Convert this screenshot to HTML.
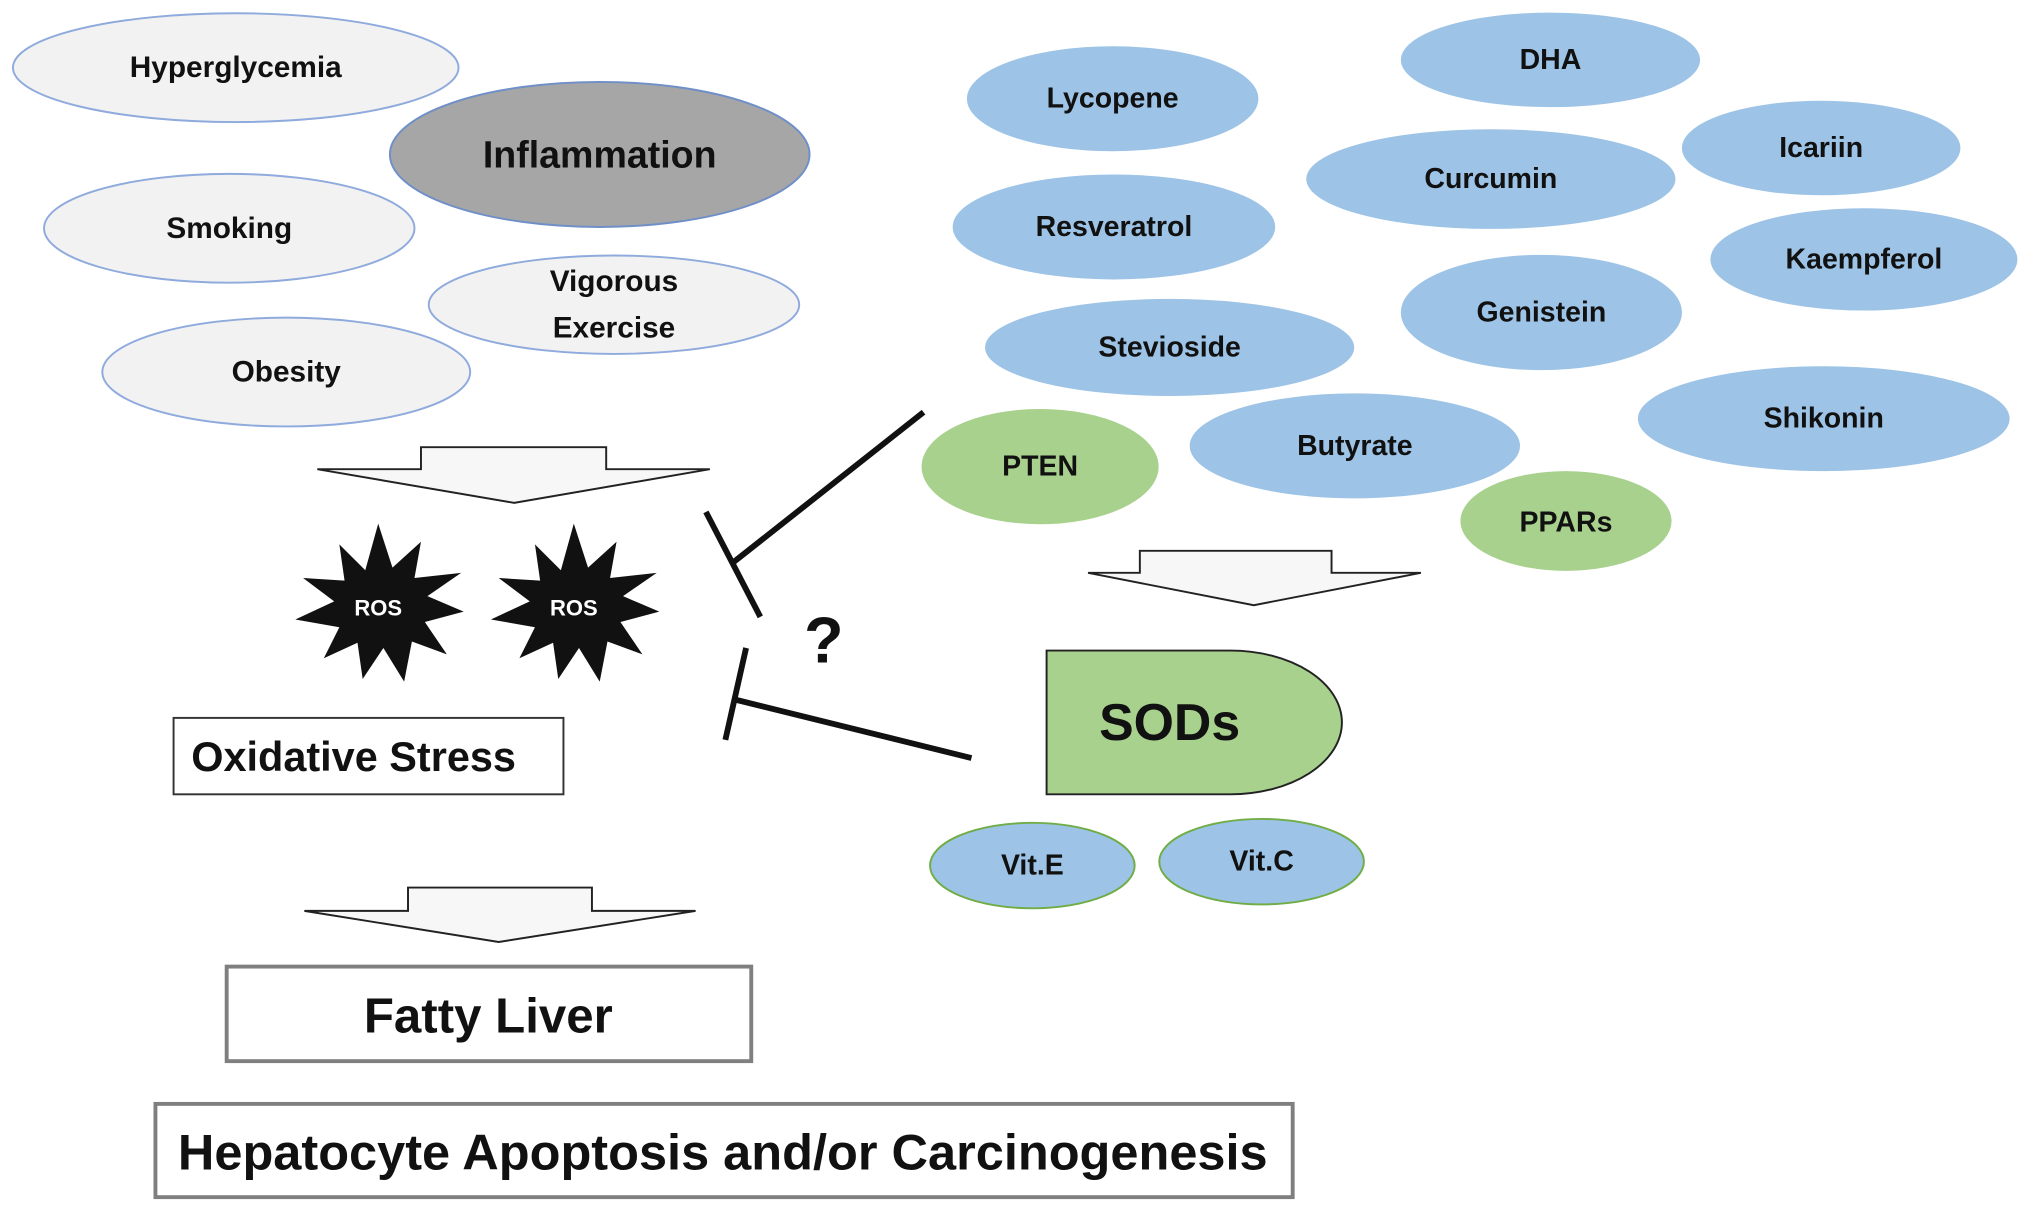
<!DOCTYPE html>
<html><head><meta charset="utf-8"><style>
html,body{margin:0;padding:0;background:#fff;}
svg{display:block}
text{font-family:"Liberation Sans",sans-serif;font-weight:bold;text-anchor:middle;dominant-baseline:central;fill:#111}
</style></head><body>
<svg width="2031" height="1213" viewBox="0 0 1568 936" xmlns="http://www.w3.org/2000/svg">
<rect width="1568" height="936" fill="#fff"/>
<g stroke="#8faadc" stroke-width="1.5" fill="#f2f2f2">
<ellipse cx="182" cy="52" rx="172" ry="42"/>
<ellipse cx="177" cy="176" rx="143" ry="42"/>
<ellipse cx="474" cy="235" rx="143" ry="38"/>
<ellipse cx="221" cy="287" rx="142" ry="42"/>
<ellipse cx="463" cy="119" rx="162" ry="56" fill="#a6a6a6" stroke="#6f8fc8"/>
</g>
<g font-size="23">
<text x="182" y="52">Hyperglycemia</text>
<text x="177" y="176">Smoking</text>
<text x="474" y="217">Vigorous</text>
<text x="474" y="253">Exercise</text>
<text x="221" y="287">Obesity</text>
<text x="463" y="119" font-size="29">Inflammation</text>
</g>
<g fill="#9dc3e6" stroke="#9dc3e6">
<ellipse cx="859" cy="76" rx="112" ry="40"/>
<ellipse cx="1197" cy="46" rx="115" ry="36"/>
<ellipse cx="1406" cy="114" rx="107" ry="36"/>
<ellipse cx="1151" cy="138" rx="142" ry="38"/>
<ellipse cx="860" cy="175" rx="124" ry="40"/>
<ellipse cx="1439" cy="200" rx="118" ry="39"/>
<ellipse cx="1190" cy="241" rx="108" ry="44"/>
<ellipse cx="903" cy="268" rx="142" ry="37"/>
<ellipse cx="1408" cy="323" rx="143" ry="40"/>
<ellipse cx="1046" cy="344" rx="127" ry="40"/>
<ellipse cx="797" cy="668" rx="79" ry="33" stroke="#70ad47" stroke-width="1.5"/>
<ellipse cx="974" cy="665" rx="79" ry="33" stroke="#70ad47" stroke-width="1.5"/>
</g>
<g fill="#a9d18e" stroke="#a9d18e">
<ellipse cx="803" cy="360" rx="91" ry="44"/>
<ellipse cx="1209" cy="402" rx="81" ry="38"/>
</g>
<g font-size="22">
<text x="859" y="76">Lycopene</text>
<text x="1197" y="46">DHA</text>
<text x="1406" y="114">Icariin</text>
<text x="1151" y="138">Curcumin</text>
<text x="860" y="175">Resveratrol</text>
<text x="1439" y="200">Kaempferol</text>
<text x="1190" y="241">Genistein</text>
<text x="903" y="268">Stevioside</text>
<text x="1408" y="323">Shikonin</text>
<text x="1046" y="344">Butyrate</text>
<text x="803" y="360">PTEN</text>
<text x="1209" y="403">PPARs</text>
<text x="797" y="668">Vit.E</text>
<text x="974" y="665">Vit.C</text>
</g>
<g fill="#f7f7f7" stroke="#222" stroke-width="1.5">
<path d="M325,345 H468 V362 H548 L397,388 L245,362 H325 Z"/>
<path d="M880,425 H1028 V442 H1097 L968,467 L840,442 H880 Z"/>
<path d="M315,685 H457 V703 H537 L385,727 L235,703 H315 Z"/>
</g>
<g fill="#111">
<polygon points="292,404 303,438 325,418 320,446 356,442 330,460 358,472 328,480 345,505 318,495 312,526 296,500 280,524 276,496 250,508 262,484 228,478 258,464 234,446 266,448 262,420 282,440"/>
<polygon points="443,404 454,438 476,418 471,446 507,442 481,460 509,472 479,480 496,505 469,495 463,526 447,500 431,524 427,496 401,508 413,484 379,478 409,464 385,446 417,448 413,420 433,440"/>
</g>
<text x="292" y="469" font-size="17" style="fill:#fff">ROS</text>
<text x="443" y="469" font-size="17" style="fill:#fff">ROS</text>
<rect x="134" y="554" width="301" height="59" fill="#fff" stroke="#333" stroke-width="1.5"/>
<text x="273" y="584" font-size="32">Oxidative Stress</text>
<rect x="175" y="746" width="405" height="73" fill="#fff" stroke="#7f7f7f" stroke-width="3"/>
<text x="377" y="784" font-size="38">Fatty Liver</text>
<rect x="120" y="852" width="878" height="72" fill="#fff" stroke="#7f7f7f" stroke-width="3"/>
<text x="558" y="889" font-size="39">Hepatocyte Apoptosis and/or Carcinogenesis</text>
<path d="M808,502 H950 A86,55.5 0 0 1 950,613 H808 Z" fill="#a9d18e" stroke="#222" stroke-width="1.5"/>
<text x="903" y="557" font-size="40">SODs</text>
<g stroke="#111" stroke-width="4.5" stroke-linecap="butt">
<line x1="713" y1="318" x2="566" y2="434"/>
<line x1="545" y1="395" x2="587" y2="476"/>
<line x1="750" y1="585" x2="568" y2="540"/>
<line x1="576" y1="500" x2="560" y2="571"/>
</g>
<text x="636" y="494" font-size="50">?</text>
</svg>
</body></html>
